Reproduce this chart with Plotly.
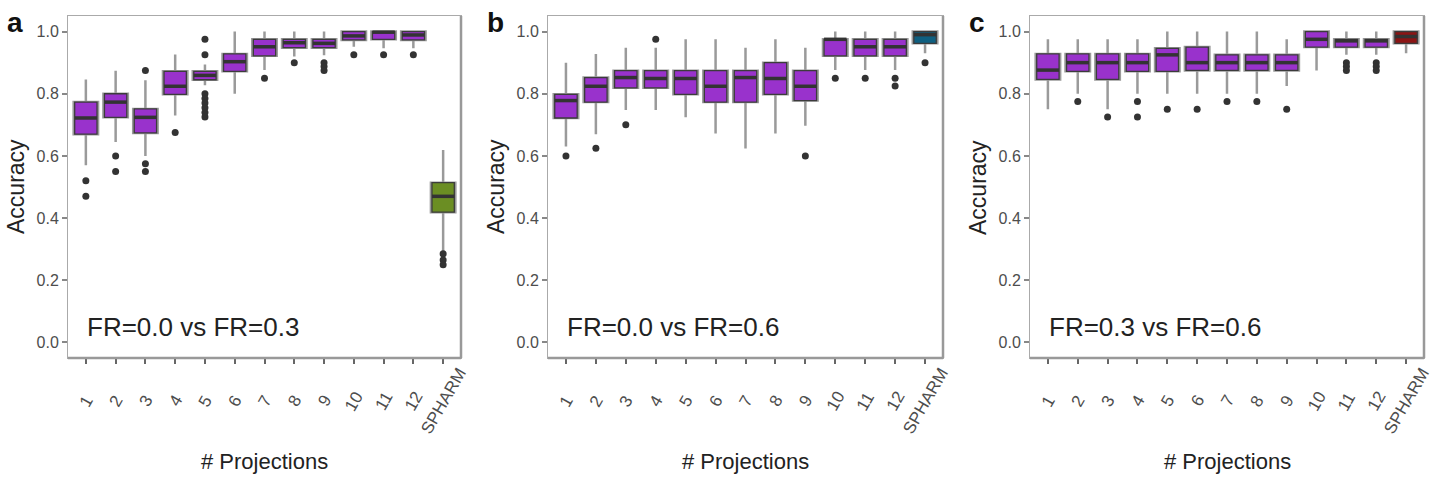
import plotly.graph_objects as go

W, H = 1439, 477

categories = ["1", "2", "3", "4", "5", "6", "7", "8", "9", "10", "11", "12", "SPHARM"]
panel_letters = ["a", "b", "c"]
panel_labels = ["FR=0.0 vs FR=0.3", "FR=0.0 vs FR=0.6", "FR=0.3 vs FR=0.6"]
spharm_colors = ["#6B8E23", "#0F5F80", "#8B1414"]
purple = "#9932CC"

# Panel a: FR=0.0 vs FR=0.3
a_q1 = [0.670, 0.724, 0.674, 0.798, 0.845, 0.872, 0.922, 0.948, 0.948, 0.973, 0.975, 0.973, 0.419]
a_med = [0.722, 0.773, 0.724, 0.824, 0.859, 0.903, 0.951, 0.964, 0.962, 0.986, 0.998, 0.989, 0.470]
a_q3 = [0.773, 0.800, 0.751, 0.872, 0.872, 0.928, 0.975, 0.975, 0.975, 1.000, 1.000, 1.000, 0.514]
a_lo = [0.570, 0.645, 0.600, 0.730, 0.827, 0.800, 0.876, 0.920, 0.924, 0.951, 0.946, 0.946, 0.292]
a_hi = [0.846, 0.874, 0.843, 0.926, 0.894, 1.000, 1.000, 1.000, 1.000, 1.000, 1.000, 1.000, 0.619]
a_out = [[0.52, 0.47], [0.60, 0.55], [0.875, 0.575, 0.55], [0.675],
         [0.975, 0.925, 0.80, 0.785, 0.77, 0.755, 0.74, 0.725], [], [0.85], [0.90],
         [0.90, 0.8875, 0.875], [0.925], [0.925], [0.925], [0.285, 0.265, 0.25]]

# Panel b: FR=0.0 vs FR=0.6
b_q1 = [0.722, 0.773, 0.819, 0.819, 0.798, 0.773, 0.773, 0.798, 0.778, 0.922, 0.922, 0.922, 0.962]
b_med = [0.778, 0.824, 0.852, 0.849, 0.849, 0.824, 0.852, 0.849, 0.824, 0.975, 0.951, 0.951, 0.990]
b_q3 = [0.798, 0.852, 0.874, 0.874, 0.874, 0.874, 0.874, 0.900, 0.874, 0.975, 0.975, 0.975, 1.000]
b_lo = [0.630, 0.670, 0.748, 0.748, 0.724, 0.672, 0.624, 0.672, 0.697, 0.876, 0.876, 0.876, 0.930]
b_hi = [0.900, 0.928, 0.948, 0.948, 0.975, 0.975, 0.948, 0.975, 0.948, 1.000, 1.000, 1.000, 1.000]
b_out = [[0.60], [0.625], [0.70], [0.975], [], [], [], [], [0.60], [0.85], [0.85],
         [0.85, 0.825], [0.90]]

# Panel c: FR=0.3 vs FR=0.6
c_q1 = [0.846, 0.872, 0.846, 0.872, 0.872, 0.875, 0.875, 0.875, 0.875, 0.950, 0.950, 0.950, 0.962]
c_med = [0.876, 0.900, 0.900, 0.900, 0.925, 0.900, 0.900, 0.900, 0.900, 0.975, 0.970, 0.970, 0.984]
c_q3 = [0.928, 0.928, 0.928, 0.928, 0.946, 0.950, 0.925, 0.925, 0.925, 1.000, 0.975, 0.975, 1.000]
c_lo = [0.750, 0.800, 0.750, 0.800, 0.800, 0.800, 0.800, 0.800, 0.825, 0.875, 0.925, 0.925, 0.930]
c_hi = [0.975, 0.975, 0.975, 0.975, 1.000, 1.000, 1.000, 1.000, 0.975, 1.000, 1.000, 1.000, 1.000]
c_out = [[], [0.775], [0.725], [0.775, 0.725], [0.75], [0.75], [0.775], [0.775], [0.75],
         [], [0.90, 0.8875, 0.875], [0.90, 0.8875, 0.875], []]

y_ticks = [0.0, 0.2, 0.4, 0.6, 0.8, 1.0]

panels = [
    (a_q1, a_med, a_q3, a_lo, a_hi, a_out),
    (b_q1, b_med, b_q3, b_lo, b_hi, b_out),
    (c_q1, c_med, c_q3, c_lo, c_hi, c_out),
]

# layout geometry (pixels)
x_left = [68, 548, 1030]
x_right = [461, 943, 1424]
y_top, y_bot = 16, 358


def px(x):
    return x / W


def py(y):
    return 1 - y / H


fig = go.Figure()
pos = list(range(len(categories)))
box_w = 0.75

for k, (q1, med, q3, lo, hi, out) in enumerate(panels):
    xa = "x" if k == 0 else f"x{k+1}"
    ya = "y" if k == 0 else f"y{k+1}"
    groups = [(list(range(12)), purple), ([12], spharm_colors[k])]
    for idx, fill in groups:
        xs = [pos[i] for i in idx]
        # whiskers + halo
        fig.add_trace(go.Box(
            x=xs, q1=[q1[i] for i in idx], median=[med[i] for i in idx],
            q3=[q3[i] for i in idx], lowerfence=[lo[i] for i in idx],
            upperfence=[hi[i] for i in idx], width=box_w + 0.07,
            fillcolor=fill, line=dict(color="#9a9a9a", width=2.5),
            whiskerwidth=0, boxpoints=False, showlegend=False,
            hoverinfo="skip", xaxis=xa, yaxis=ya))
        # box body
        fig.add_trace(go.Box(
            x=xs, q1=[q1[i] for i in idx], median=[med[i] for i in idx],
            q3=[q3[i] for i in idx], lowerfence=[q1[i] for i in idx],
            upperfence=[q3[i] for i in idx], width=box_w,
            fillcolor=fill, line=dict(color="#3c3c3c", width=1.3),
            whiskerwidth=0, boxpoints=False, showlegend=False,
            hoverinfo="skip", xaxis=xa, yaxis=ya))
    # thick medians
    mx, my = [], []
    for i in pos:
        mx += [pos[i] - box_w / 2, pos[i] + box_w / 2, None]
        my += [med[i], med[i], None]
    fig.add_trace(go.Scatter(x=mx, y=my, mode="lines",
                             line=dict(color="#333333", width=3.5),
                             showlegend=False, hoverinfo="skip",
                             xaxis=xa, yaxis=ya))
    # outliers
    ox, oy = [], []
    for i in pos:
        for v in out[i]:
            ox.append(pos[i])
            oy.append(v)
    fig.add_trace(go.Scatter(x=ox, y=oy, mode="markers",
                             marker=dict(color="#333333", size=7),
                             showlegend=False, hoverinfo="skip",
                             xaxis=xa, yaxis=ya))

font_family = "Liberation Sans, Arial, Helvetica, sans-serif"
layout = dict(
    width=W, height=H, margin=dict(l=0, r=0, t=0, b=0),
    paper_bgcolor="white", plot_bgcolor="white",
    boxmode="overlay", showlegend=False,
    font=dict(family=font_family, color="#222222"),
)
annotations = []
shapes = []
for k in range(3):
    xn = "xaxis" if k == 0 else f"xaxis{k+1}"
    yn = "yaxis" if k == 0 else f"yaxis{k+1}"
    xa = "x" if k == 0 else f"x{k+1}"
    ya = "y" if k == 0 else f"y{k+1}"
    layout[xn] = dict(
        domain=[px(x_left[k]), px(x_right[k])], anchor=ya,
        range=[-0.6, len(categories) - 0.4], tickvals=pos,
        showticklabels=False, ticks="outside", ticklen=5, tickwidth=1.5,
        tickcolor="#666666", showgrid=False, zeroline=False,
        showline=True, linecolor="#aaaaaa", linewidth=1, mirror=True,
    )
    layout[yn] = dict(
        domain=[py(y_bot), py(y_top)], anchor=xa,
        range=[-0.05, 1.05], tickvals=y_ticks,
        ticktext=[f"{v:.1f}" for v in y_ticks],
        ticks="outside", ticklen=5, tickwidth=1.5, tickcolor="#888888",
        tickfont=dict(size=16, color="#4d4d4d"),
        showgrid=False, zeroline=False,
        showline=True, linecolor="#aaaaaa", linewidth=1, mirror=True,
    )
    # heavier right and bottom frame
    shapes.append(dict(type="line", xref=f"{xa} domain", yref=f"{ya} domain",
                       x0=1, x1=1, y0=0, y1=1,
                       line=dict(color="#999999", width=2.5)))
    shapes.append(dict(type="line", xref=f"{xa} domain", yref=f"{ya} domain",
                       x0=0, x1=1, y0=0, y1=0,
                       line=dict(color="#999999", width=2.5)))
    # rotated category labels
    for i, c in enumerate(categories):
        annotations.append(dict(
            x=pos[i], xref=xa, y=py(401), yref="paper", text=c,
            textangle=-60, showarrow=False, xanchor="center", yanchor="middle",
            font=dict(size=17, color="#4d4d4d")))
    # panel letter
    annotations.append(dict(
        x=px(x_left[k] - 63), y=py(22), xref="paper", yref="paper",
        text=f"<b>{panel_letters[k]}</b>", showarrow=False,
        xanchor="left", yanchor="middle", font=dict(size=28, color="#111111")))
    # y title
    annotations.append(dict(
        x=px(x_left[k] - 52), y=py(187), xref="paper", yref="paper",
        text="Accuracy", textangle=-90, showarrow=False,
        xanchor="center", yanchor="middle", font=dict(size=23, color="#222222")))
    # x title
    annotations.append(dict(
        x=px((x_left[k] + x_right[k]) / 2), y=py(461), xref="paper", yref="paper",
        text="# Projections", showarrow=False,
        xanchor="center", yanchor="middle", font=dict(size=22, color="#222222")))
    # comparison label
    annotations.append(dict(
        x=px(x_left[k] + 17), y=py(327), xref="paper", yref="paper",
        text=panel_labels[k], showarrow=False,
        xanchor="left", yanchor="middle", font=dict(size=26, color="#222222")))

layout["annotations"] = annotations
layout["shapes"] = shapes
fig.update_layout(**layout)
fig.write_html("out.html")
